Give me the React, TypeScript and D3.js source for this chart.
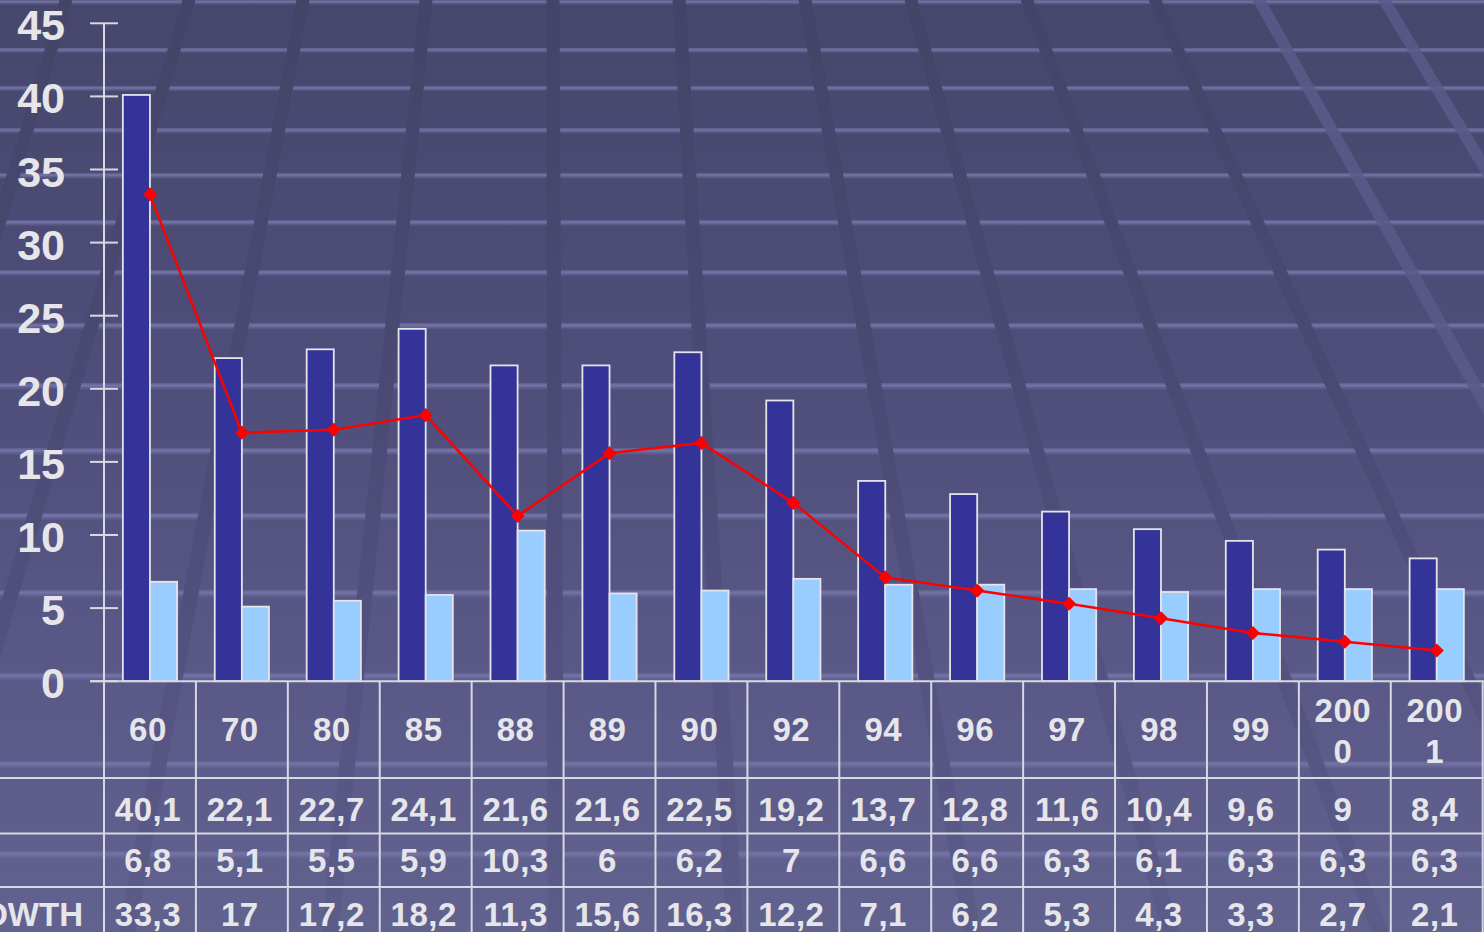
import React from "react";
import * as d3 from "d3";

const categories = ["60", "70", "80", "85", "88", "89", "90", "92", "94", "96", "97", "98", "99", "2000", "2001"];
const headerLines = [["60"], ["70"], ["80"], ["85"], ["88"], ["89"], ["90"], ["92"], ["94"], ["96"], ["97"], ["98"], ["99"], ["200", "0"], ["200", "1"]];
const birthRate = [40.1, 22.1, 22.7, 24.1, 21.6, 21.6, 22.5, 19.2, 13.7, 12.8, 11.6, 10.4, 9.6, 9, 8.4];
const deathRate = [6.8, 5.1, 5.5, 5.9, 10.3, 6, 6.2, 7, 6.6, 6.6, 6.3, 6.1, 6.3, 6.3, 6.3];
const growth = [33.3, 17, 17.2, 18.2, 11.3, 15.6, 16.3, 12.2, 7.1, 6.2, 5.3, 4.3, 3.3, 2.7, 2.1];
const yTicks = [0, 5, 10, 15, 20, 25, 30, 35, 40, 45];
const rowLabels = ["", "", "NATURAL GROWTH"];

// decorative background (template artwork)
const bgBands = [2, 50, 88, 130, 175, 222, 272, 325, 385, 450, 515, 592, 675, 763, 853];
const darkStripes = [
  [66, -214], [189, -90], [303, 127], [426, 330], [553, 556], [679, 735],
  [805, 972], [911, 1171], [1027, 1380], [1155, 1584],
];
const lightStripes = [[1259, 1781], [1384, 1943]];

const W = 1484;
const H = 932;
const FONT = "'Liberation Sans', Arial, sans-serif";
const TXT = "#e6e6ea";
const GRID = "#d8d8e2";

function fmt(v: number) {
  return String(v).replace(".", ",");
}

export default function App() {
  const x = d3.scaleBand<string>().domain(categories).range([104, 1482.7]).padding(0);
  const y = d3.scaleLinear().domain([0, 45]).range([681.2, 23.3]);
  const bw = x.bandwidth() * 0.295;
  const cx = (c: string) => (x(c) as number) + x.bandwidth() / 2;

  const line = d3
    .line<number>()
    .x((_, i) => cx(categories[i]))
    .y((d) => y(d));

  const diamond = d3.symbol(d3.symbolSquare, 100)();

  const rowTops = [681.2, 778, 833.5, 887];
  const rowBaselines = [741, 820.5, 872, 926];

  const stripe = (t: number, b: number, wt: number, wb: number) =>
    `M${t - wt / 2},0L${t + wt / 2},0L${b + wb / 2},${H}L${b - wb / 2},${H}Z`;

  return (
    <svg
      width={W}
      height={H}
      style={{ position: "absolute", left: 0, top: 0, display: "block" }}
      fontFamily={FONT}
    >
      <defs>
        <linearGradient id="bg" x1="0" y1="0" x2="0" y2={H} gradientUnits="userSpaceOnUse">
          <stop offset="0" stopColor="#47466c" />
          <stop offset="0.4" stopColor="#4f4e7a" />
          <stop offset="0.75" stopColor="#5a5988" />
          <stop offset="1" stopColor="#62628f" />
        </linearGradient>
        <linearGradient id="stripeDark" x1="0" y1="0" x2="0" y2={H} gradientUnits="userSpaceOnUse">
          <stop offset="0" stopColor="#444468" />
          <stop offset="0.4" stopColor="#4a4973" />
          <stop offset="0.75" stopColor="#545381" />
          <stop offset="1" stopColor="#5c5c89" />
        </linearGradient>
        <linearGradient id="band" x1="0" y1="0" x2="0" y2="1">
          <stop offset="0" stopColor="#6e6ea0" stopOpacity="0.5" />
          <stop offset="0.35" stopColor="#7474a8" stopOpacity="1" />
          <stop offset="1" stopColor="#6e6ea0" stopOpacity="0" />
        </linearGradient>
      </defs>

      <rect x={0} y={0} width={W} height={H} fill="url(#bg)" />
      {bgBands.map((b, i) => (
        <rect key={"band" + i} x={0} y={b - 2} width={W} height={5 + i * 0.25} fill="url(#band)" />
      ))}
      {darkStripes.map(([t, b], i) => (
        <path key={"ds" + i} d={stripe(t, b, 13, 17)} fill="url(#stripeDark)" />
      ))}
      {lightStripes.map(([t, b], i) => (
        <path key={"ls" + i} d={stripe(t, b, 13, 17)} fill="#5a5a8a" opacity={0.85} />
      ))}

      {/* bars */}
      {categories.map((c, i) => (
        <g key={"bars" + c}>
          <rect
            x={cx(c) - bw}
            y={y(birthRate[i])}
            width={bw}
            height={y(0) - y(birthRate[i])}
            fill="#333399"
            stroke="#e4e4ea"
            strokeWidth={1.8}
          />
          <rect
            x={cx(c)}
            y={y(deathRate[i])}
            width={bw}
            height={y(0) - y(deathRate[i])}
            fill="#99ccff"
            stroke="#e4e4ea"
            strokeWidth={1.8}
          />
        </g>
      ))}

      {/* growth line */}
      <path d={line(growth) || ""} fill="none" stroke="#ff0000" strokeWidth={2.5} />
      {growth.map((v, i) => (
        <path
          key={"m" + i}
          d={diamond || ""}
          transform={`translate(${cx(categories[i])},${y(v)}) rotate(45)`}
          fill="#ff0000"
        />
      ))}

      {/* y axis */}
      <line x1={104} x2={104} y1={y(45)} y2={H} stroke={GRID} strokeWidth={2} />
      {yTicks.map((t) => (
        <g key={"t" + t}>
          <line x1={90} x2={118} y1={y(t)} y2={y(t)} stroke={GRID} strokeWidth={2} />
          <text
            x={65}
            y={y(t) + 17}
            textAnchor="end"
            fontSize={43}
            fontWeight="bold"
            fill={TXT}
          >
            {t}
          </text>
        </g>
      ))}

      {/* data table */}
      <line x1={90} x2={W} y1={rowTops[0]} y2={rowTops[0]} stroke={GRID} strokeWidth={2} />
      {rowTops.slice(1).map((r, i) => (
        <line key={"rl" + i} x1={0} x2={W} y1={r} y2={r} stroke={GRID} strokeWidth={2} />
      ))}
      {categories.map((c) => (
        <line
          key={"vl" + c}
          x1={(x(c) as number) + x.bandwidth()}
          x2={(x(c) as number) + x.bandwidth()}
          y1={rowTops[0]}
          y2={H}
          stroke={GRID}
          strokeWidth={2}
        />
      ))}
      {categories.map((c, i) => {
        const lines = headerLines[i];
        return (
          <g key={"hd" + c}>
            {lines.map((l, k) => (
              <text
                key={k}
                x={cx(c) - 2}
                y={lines.length === 1 ? rowBaselines[0] : 722 + k * 41}
                textAnchor="middle"
                fontSize={33}
                fontWeight="bold"
                letterSpacing={0.5}
                fill={TXT}
              >
                {l}
              </text>
            ))}
          </g>
        );
      })}
      {[birthRate, deathRate, growth].map((series, r) =>
        series.map((v, i) => (
          <text
            key={"cell" + r + "-" + i}
            x={cx(categories[i]) - 2}
            y={rowBaselines[r + 1]}
            textAnchor="middle"
            fontSize={33}
            fontWeight="bold"
            letterSpacing={0.5}
            fill={TXT}
          >
            {fmt(v)}
          </text>
        ))
      )}
      {rowLabels.map((l, r) =>
        l ? (
          <text
            key={"lab" + r}
            x={83}
            y={rowBaselines[r + 1]}
            textAnchor="end"
            fontSize={33}
            fontWeight="bold"
            fill={TXT}
          >
            {l}
          </text>
        ) : null
      )}
    </svg>
  );
}
